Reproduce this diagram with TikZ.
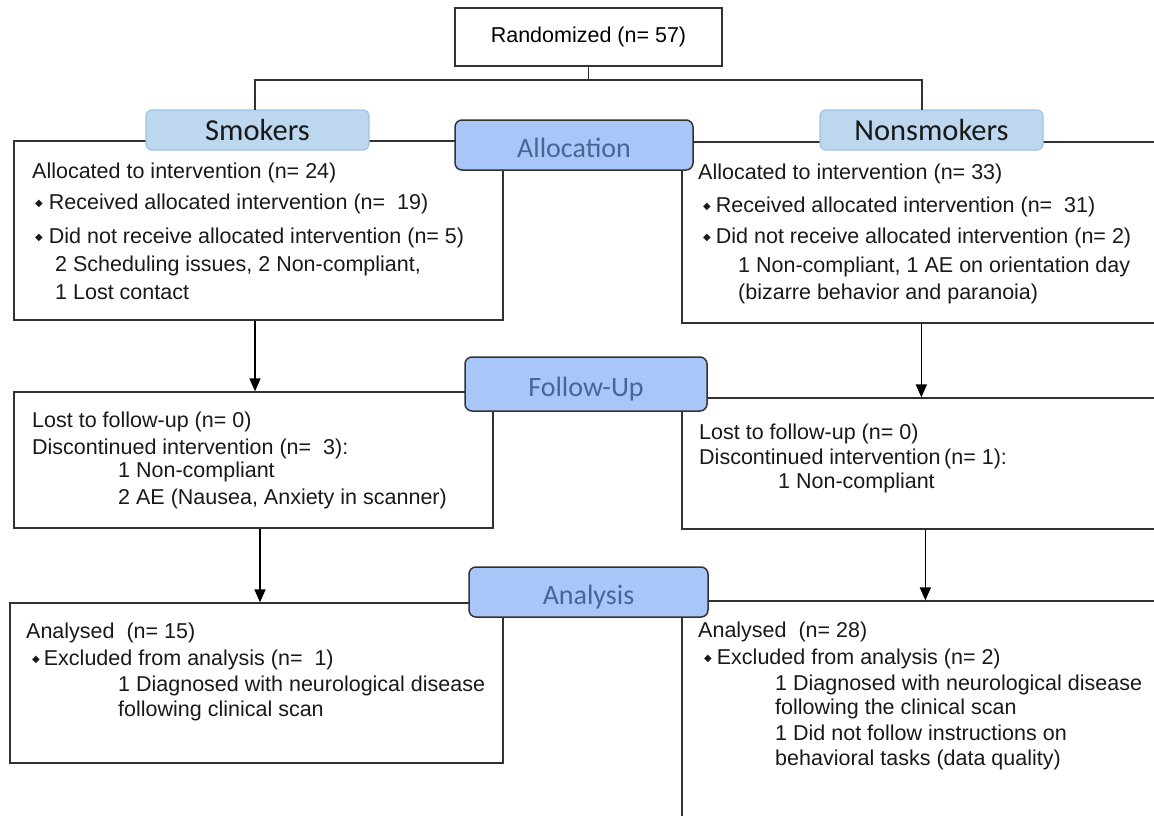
\documentclass[tikz,border=0pt]{standalone}
\usepackage{fontspec}
\setmainfont{Liberation Sans}
\newfontfamily\calfont{Carlito}
\newfontfamily\djfont{DejaVu Sans}
\usetikzlibrary{arrows.meta}
\definecolor{grpfill}{RGB}{189,215,238}
\definecolor{grpdraw}{RGB}{157,195,230}
\definecolor{phfill}{RGB}{168,198,248}
\definecolor{phtext}{RGB}{70,102,150}
\definecolor{edge}{RGB}{50,50,50}
\newcommand{\bul}{\raisebox{3.5pt}{\djfont\fontsize{10}{10}\selectfont ◆}}
\tikzset{
  box/.style={draw=edge, line width=1.3, fill=white, inner sep=0},
  grp/.style={draw=grpdraw, line width=1.2, fill=grpfill, rounded corners=6, minimum width=223, minimum height=40, font=\calfont\fontsize{30.5}{30}\selectfont, text=black!90},
  phase/.style={draw=edge, line width=1.5, fill=phfill, rounded corners=7, inner sep=0, text height=24pt, text depth=0pt, font=\calfont\fontsize{28}{28}\selectfont, text=phtext},
  txt/.style={anchor=north west, align=left, inner sep=0, font=\fontsize{21.5}{24}\selectfont, text=black!90},
  conn/.style={draw=edge, line width=1.5},
  arr/.style={draw=black, line width=1.7, -{Triangle[width=11,length=13]}}
}
\begin{document}
\begin{tikzpicture}[x=1pt,y=-1pt]
\path[use as bounding box] (0,0) rectangle (1154,816);
\clip (0,0) rectangle (1154,816);
% top
\node[box, minimum width=267, minimum height=58, font=\fontsize{21.5}{24}\selectfont] (rand) at (588.5,37) {Randomized (n= 57)};
% boxes
\node[box, minimum width=489, minimum height=179] (sa) at (258.5,230.5) {};
\node[box, minimum width=498, minimum height=181] (na) at (931,232.5) {};
\node[box, minimum width=479, minimum height=136] (sf) at (253.5,460) {};
\node[box, minimum width=498, minimum height=131] (nf) at (931,463.5) {};
\node[box, minimum width=493, minimum height=160] (san) at (256.5,683) {};
\node[box, minimum width=498, minimum height=239] (nan) at (931,720.5) {};
% group labels and phase labels
\node[grp] (smk) at (257.5,130) {Smokers};
\node[grp] (nsm) at (931.5,130) {Nonsmokers};
\node[phase, minimum width=238, minimum height=50] (alloc) at (574,145) {Allocation};
\node[phase, minimum width=242, minimum height=54] (fup) at (586,384) {Follow-Up};
\node[phase, minimum width=239, minimum height=50] (anal) at (588.5,592) {Analysis};
% connectors from randomized
\coordinate (jl) at (255,110);
\coordinate (jr) at (922,110);
\draw[conn] (rand.south) -- (rand.south |- 0,80) -| (jl);
\draw[conn] (rand.south |- 0,80) -| (jr);
% arrows
\draw[arr] ([xshift=-3.5]sa.south) -- ([xshift=-3.5]sa.south |- sf.north);
\draw[arr] ([xshift=240]na.south west) -- ([xshift=240]na.south west |- nf.north);
\draw[arr] ([xshift=6.5]sf.south) -- ([xshift=6.5]sf.south |- san.north);
\draw[arr] ([xshift=244]nf.south west) -- ([xshift=244]nf.south west |- nan.north);
% texts
\node[txt] (tsa) at (32,163) {Allocated to intervention (n= 24)\\[7pt]
\hspace{3pt}\bul\hspace{6pt}Received allocated intervention (n=\ \ 19)\\[10pt]
\hspace{3pt}\bul\hspace{6pt}Did not receive allocated intervention (n= 5)\\[4pt]
\hspace{23pt}2 Scheduling issues, 2 Non-compliant,\\[4pt]
\hspace{23pt}1 Lost contact};
\node[txt] (tna) at (698,164) {Allocated to intervention (n= 33)\\[9pt]
\hspace{5pt}\bul\hspace{5pt}Received allocated intervention (n=\ \ 31)\\[7pt]
\hspace{5pt}\bul\hspace{5pt}Did not receive allocated intervention (n= 2)\\[5pt]
\hspace{40pt}1 Non-compliant, 1 AE on orientation day\\[3pt]
\hspace{40pt}(bizarre behavior and paranoia)};
\node[txt] (tsf) at (32,412) {Lost to follow-up (n= 0)\\[3pt]
Discontinued intervention (n=\ \ 3):\\[-1pt]
\hspace{86pt}1 Non-compliant\\[3pt]
\hspace{86pt}2 AE (Nausea, Anxiety in scanner)};
\node[txt] (tnf) at (699,424) {Lost to follow-up (n= 0)\\[1pt]
Discontinued intervention\,(n= 1):\\[0pt]
\hspace{79pt}1 Non-compliant};
\node[txt] (tsan) at (26,623) {Analysed\ \ (n= 15)\\[3pt]
\hspace{6pt}\bul\hspace{4pt}Excluded from analysis (n=\ \ 1)\\[2pt]
\hspace{92pt}1 Diagnosed with neurological disease\\[1pt]
\hspace{92pt}following clinical scan};
\node[txt] (tnan) at (698,622) {Analysed\ \ (n= 28)\\[3pt]
\hspace{6pt}\bul\hspace{5pt}Excluded from analysis (n= 2)\\[2pt]
\hspace{77pt}1 Diagnosed with neurological disease\\[0pt]
\hspace{77pt}following the clinical scan\\[2pt]
\hspace{77pt}1 Did not follow instructions on\\[1pt]
\hspace{77pt}behavioral tasks (data quality)};
\end{tikzpicture}
\end{document}
